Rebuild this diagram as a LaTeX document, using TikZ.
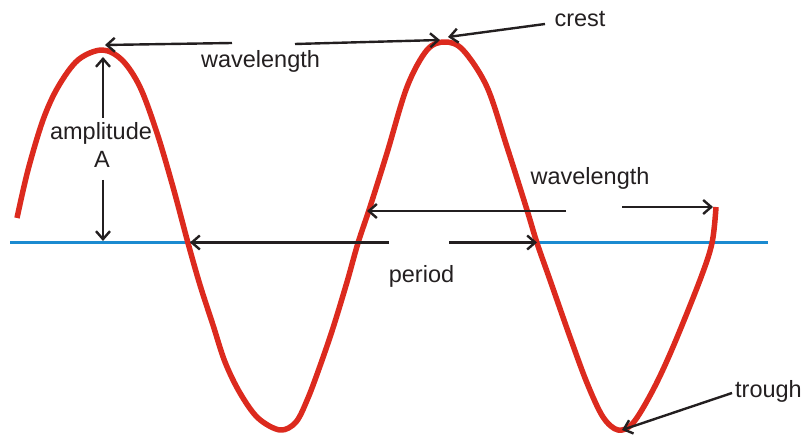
\documentclass[tikz,border=0pt]{standalone}
\usepackage{fontspec}
\setmainfont{Liberation Sans}
\usetikzlibrary{arrows.meta}
\definecolor{wavered}{HTML}{DC2A1E}
\definecolor{baseblue}{HTML}{1B8AD0}
\definecolor{inkgray}{HTML}{231F20}
\begin{document}
\begin{tikzpicture}[x=1pt,y=-1pt,
  lbl/.style={anchor=base,inner sep=0pt,text=inkgray,font=\fontsize{23.5}{28}\selectfont},
  arr/.style={draw=inkgray,line width=2.4pt,-{Straight Barb[length=8pt,width=14pt,line width=2.4pt]}}]
\useasboundingbox (0,0) rectangle (804,435);
% labels
\node[lbl] (wl1) at (260.5,68) {wavelength};
\node[lbl] (crest) at (580,27) {crest};
\node[lbl] (amp) at (101,140) {amplitude};
\node[lbl] (A) at (102,168) {A};
\node[lbl] (wl2) at (590,185) {wavelength};
\node[lbl] (per) at (421.5,283) {period};
\node[lbl] (tr) at (768.5,398) {trough};
% coordinates for connectors
\coordinate (bl) at (10,242.5);
\coordinate (br) at (768,242.5);
\coordinate (c1) at (105,45);
\coordinate (w1a) at (232,43);
\coordinate (w1b) at (295,44);
\coordinate (c2) at (440,40);
\coordinate (crs) at (545,24);
\coordinate (c2r) at (448,37);
\coordinate (ampt) at (103,57);
\coordinate (ampa) at (103,118);
\coordinate (ampb) at (103,180);
\coordinate (ampbot) at (103,241);
\coordinate (p1) at (190,242.5);
\coordinate (pa) at (389,242.5);
\coordinate (pb) at (449,242.5);
\coordinate (p2) at (537,242.5);
\coordinate (m1) at (367,211);
\coordinate (ma) at (566,211);
\coordinate (mb) at (622,207);
\coordinate (m2) at (713,207);
\coordinate (trs) at (732,393);
\coordinate (trt) at (622,430);
% baseline (broken where the period label sits)
\draw[baseblue,line width=2.2pt] (bl) -- (pa);
\draw[baseblue,line width=2.2pt] (pb) -- (br);
% wave
\draw[wavered,line width=5.5pt,line join=round] plot[smooth,tension=0.55] coordinates {
 (17,218) (28,170) (43,120) (58,87) (78,60) (102,50) (122,60) (140,87) (157,133) (173,187) (188,243)
 (200,285) (213,325) (225,362) (240,393) (258,418) (280,430) (296,422) (308,398) (320,366) (333,328) (347,282)
 (358,243) (370,207) (387,153) (407,87) (427,50) (445,42) (463,50) (487,87) (507,147) (527,210) (537,243)
 (550,280) (570,337) (587,383) (603,417) (618,430) (633,423) (653,390) (673,347) (700,280) (712,243) (716,207)};
% arrows
\draw[arr] (w1a) -- (c1);
\draw[arr] (w1b) -- (c2);
\draw[arr] (crs) -- (c2r);
\draw[arr] (ampa) -- (ampt);
\draw[arr] (ampb) -- (ampbot);
\draw[arr] (pa) -- (p1);
\draw[arr] (pb) -- (p2);
\draw[arr] (ma) -- (m1);
\draw[arr] (mb) -- (m2);
\draw[arr] (trs) -- (trt);
\end{tikzpicture}
\end{document}
